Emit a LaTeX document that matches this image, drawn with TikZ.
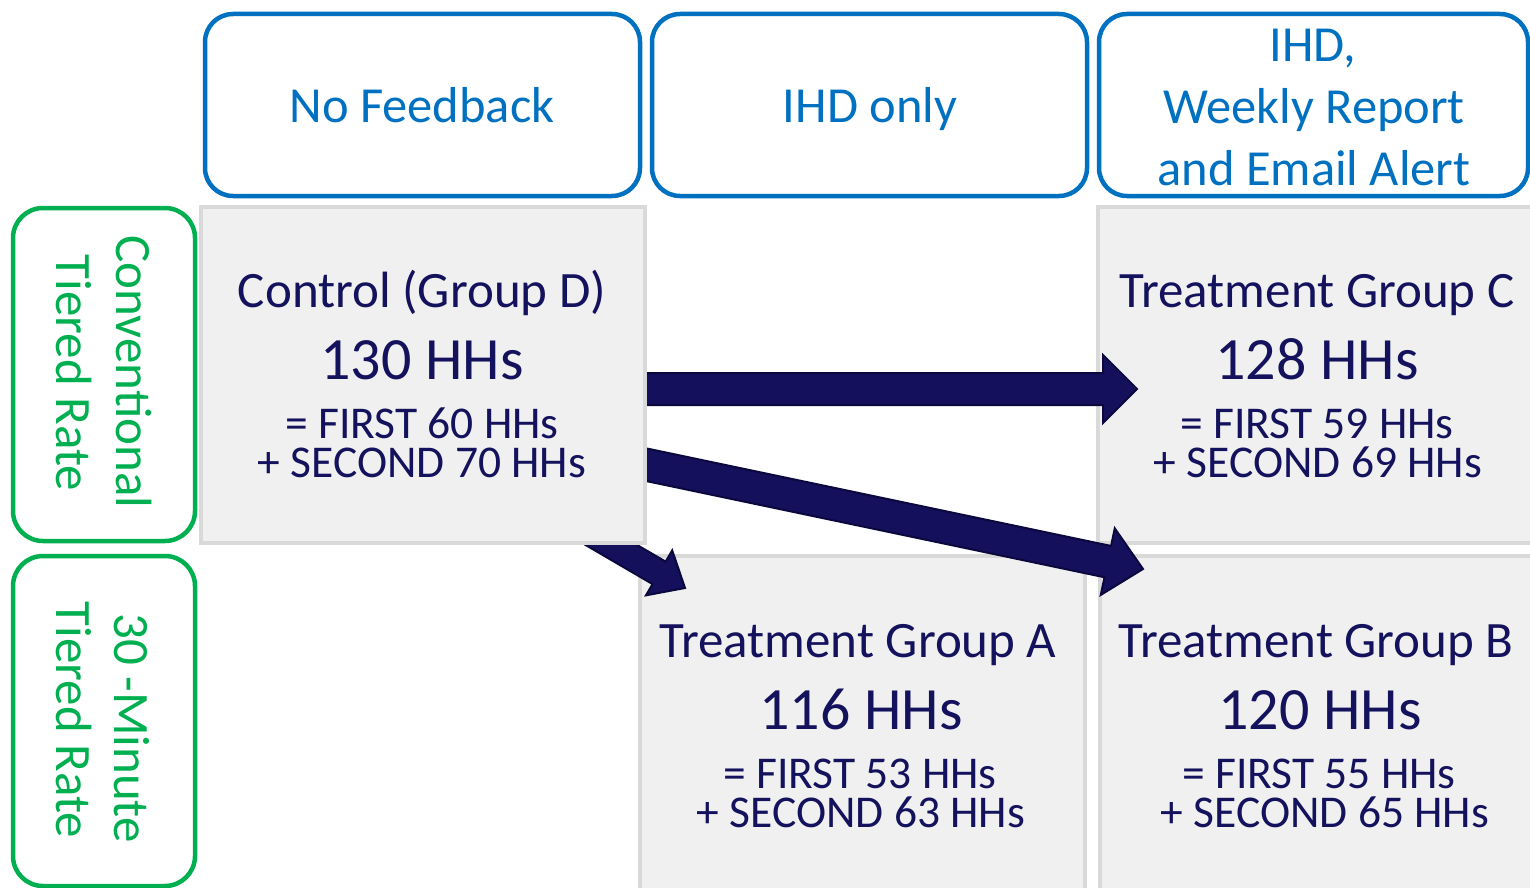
\documentclass[tikz,border=0pt]{standalone}
\usepackage{fontspec}
\setmainfont{Carlito}
\usetikzlibrary{calc}
\definecolor{hdrblue}{RGB}{0,112,192}
\definecolor{lblgreen}{RGB}{0,176,80}
\definecolor{cellfill}{RGB}{240,240,240}
\definecolor{cellline}{RGB}{217,217,217}
\definecolor{navytext}{RGB}{20,18,92}
\definecolor{arrowfill}{RGB}{20,16,92}
\definecolor{arrowline}{RGB}{10,8,60}
\newcommand\blockarrow[5]{%
  \path ($(#2)!#5!(#1)$) coordinate (ba);
  \filldraw[arrowbody] ($(#1)!#3!90:(#2)$) -- ($(ba)!#3!90:(#2)$) -- ($(ba)!#4!90:(#2)$) -- (#2)
    -- ($(ba)!#4!-90:(#2)$) -- ($(ba)!#3!-90:(#2)$) -- ($(#1)!#3!-90:(#2)$) -- cycle;}
\begin{document}
\begin{tikzpicture}[x=1pt,y=-1pt,
  hdrbox/.style={draw=hdrblue,line width=4.5pt,rounded corners=28pt,inner sep=0pt,outer sep=0pt},
  lblbox/.style={draw=lblgreen,line width=4.5pt,rounded corners=30pt,inner sep=0pt,outer sep=0pt},
  cellbox/.style={draw=cellline,fill=cellfill,line width=4pt,inner sep=0pt,outer sep=0pt},
  hdrtext/.style={text=hdrblue,font=\fontsize{50.5}{61}\selectfont,inner sep=0pt,anchor=base},
  lbltext/.style={text=lblgreen,font=\fontsize{51}{60}\selectfont,inner sep=0pt,anchor=base,rotate=-90},
  titletext/.style={text=navytext,font=\fontsize{51}{60}\selectfont,inner sep=0pt,anchor=base},
  counttext/.style={text=navytext,font=\fontsize{60}{70}\selectfont,inner sep=0pt,anchor=base},
  subtext/.style={text=navytext,font=\fontsize{45.5}{38}\selectfont,inner sep=0pt,anchor=base},
  arrowbody/.style={fill=arrowfill,draw=arrowline,line width=2pt,line join=miter}]
\useasboundingbox (0,0) rectangle (1530,888);
\clip (0,0) rectangle (1530,888);
% header boxes
\node[hdrbox,minimum width=435pt,minimum height=182pt] (h1) at (422.5,105) {};
\node[hdrbox,minimum width=435pt,minimum height=182pt] (h2) at (869.5,105) {};
\node[hdrbox,minimum width=429pt,minimum height=182pt] (h3) at (1313.5,105) {};
\node[hdrtext] (h1t) at (422,122) {No Feedback};
\node[hdrtext] (h2t) at (870,122) {IHD only};
\node[hdrtext] (h3a) at (1313,62) {IHD,};
\node[hdrtext] (h3b) at (1314,124) {Weekly Report};
\node[hdrtext] (h3c) at (1314,185) {and Email Alert};
% row labels
\node[lblbox,minimum width=182pt,minimum height=333pt] (r1) at (104,374.5) {};
\node[lblbox,minimum width=182pt,minimum height=330pt] (r2) at (104,721) {};
\node[lbltext] (r1a) at (116,372) {Conventional};
\node[lbltext] (r1b) at (56,373) {Tiered Rate};
\node[lbltext] (r2a) at (114,728) {30 -Minute};
\node[lbltext] (r2b) at (56,720) {Tiered Rate};
% cells
\node[cellbox,minimum width=442pt,minimum height=336pt] (gc) at (1319,375) {};
\node[cellbox,minimum width=445pt,minimum height=344pt] (ga) at (862.5,728) {};
\node[cellbox,minimum width=445pt,minimum height=344pt] (gb) at (1322.5,728) {};
\node[titletext] (gct) at (1317,307) {Treatment Group C};
\node[counttext] (gcn) at (1317,379) {128 HHs};
\node[subtext] (gcs1) at (1317,438) {= FIRST 59 HHs};
\node[subtext] (gcs2) at (1318,477) {+ SECOND 69 HHs};
\node[titletext] (gat) at (858,657) {Treatment Group A};
\node[counttext] (gan) at (861,729) {116 HHs};
\node[subtext] (gas1) at (860,788) {= FIRST 53 HHs};
\node[subtext] (gas2) at (861,827) {+ SECOND 63 HHs};
\node[titletext] (gbt) at (1316,657) {Treatment Group B};
\node[counttext] (gbn) at (1320,729) {120 HHs};
\node[subtext] (gbs1) at (1319,788) {= FIRST 55 HHs};
\node[subtext] (gbs2) at (1325,827) {+ SECOND 65 HHs};
% arrows
\coordinate (a1s) at (600,389);
\coordinate (a1e) at (1137,389);
\coordinate (a2s) at (600,455);
\coordinate (a2e) at (1143,569);
\coordinate (a3s) at (560,515);
\coordinate (a3e) at (685,588);
\blockarrow{a1s}{a1e}{16pt}{34pt}{34pt}
\blockarrow{a2s}{a2e}{16pt}{34pt}{36pt}
\blockarrow{a3s}{a3e}{13pt}{26pt}{30pt}
% control cell
\node[cellbox,minimum width=444pt,minimum height=336pt] (gd) at (423,375) {};
\node[titletext] (gdt) at (422,307) {Control (Group D)};
\node[counttext] (gdn) at (422,379) {130 HHs};
\node[subtext] (gds1) at (422,438) {= FIRST 60 HHs};
\node[subtext] (gds2) at (422,477) {+ SECOND 70 HHs};
\end{tikzpicture}
\end{document}
